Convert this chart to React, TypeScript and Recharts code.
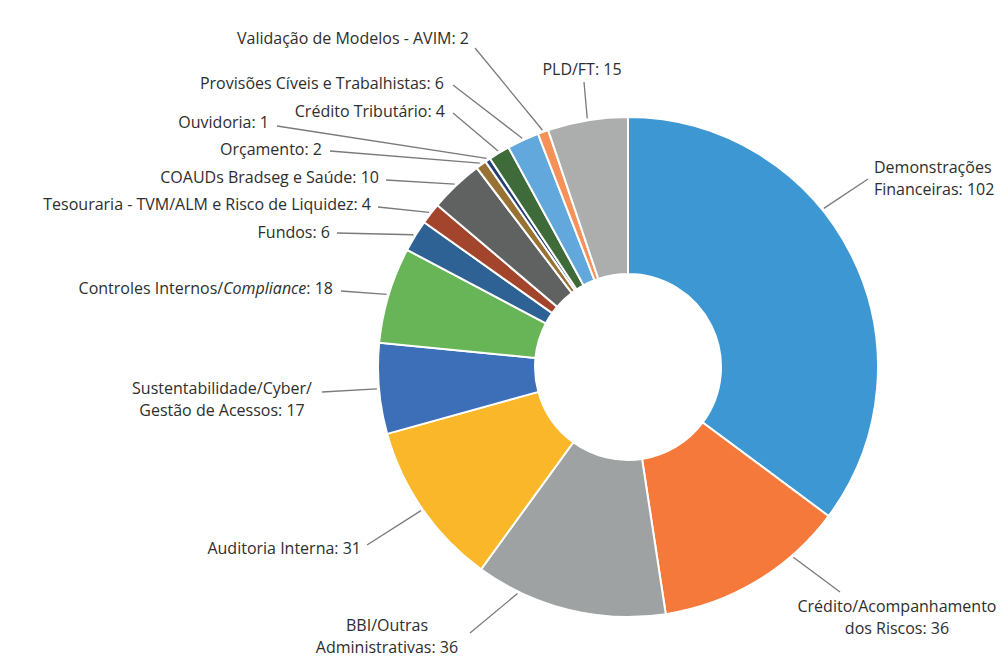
import React from 'react';
import { PieChart, Pie, Cell } from 'recharts';

// ---- data ----
const categories: string[] = [
  'Demonstrações\nFinanceiras',
  'Crédito/Acompanhamento\ndos Riscos',
  'BBI/Outras\nAdministrativas',
  'Auditoria Interna',
  'Sustentabilidade/Cyber/\nGestão de Acessos',
  'Controles Internos/Compliance',
  'Fundos',
  'Tesouraria - TVM/ALM e Risco de Liquidez',
  'COAUDs Bradseg e Saúde',
  'Orçamento',
  'Ouvidoria',
  'Crédito Tributário',
  'Provisões Cíveis e Trabalhistas',
  'Validação de Modelos - AVIM',
  'PLD/FT',
];
const values: number[] = [102, 36, 36, 31, 17, 18, 6, 4, 10, 2, 1, 4, 6, 2, 15];
const colors: string[] = [
  '#3d97d3', '#f4793b', '#9fa2a2', '#fbb72a', '#3d6eb8', '#67b556', '#2e6295',
  '#a2452c', '#606161', '#977234', '#263f77', '#3f6b3b', '#62a8dc', '#f7915a', '#acadad',
];

const data = categories.map((name, i) => ({ name, value: values[i] }));

// ---- label layout (hand placed, like the original) ----
type Layout = { lineAngle?: number; end: [number, number]; text: [number, number]; anchor: 'start' | 'middle' | 'end' };
const LABEL_LAYOUT: Layout[] = [
  { lineAngle: 51, end: [868, 179], text: [874, 166.5], anchor: 'start' },
  { lineAngle: 139, end: [840, 592], text: [897, 605.5], anchor: 'middle' },
  { lineAngle: 206, end: [470, 633], text: [387, 624.5], anchor: 'middle' },
  { end: [367, 545], text: [361, 548], anchor: 'end' },
  { end: [322, 392], text: [222, 388], anchor: 'middle' },
  { end: [341, 291], text: [333, 288], anchor: 'end' },
  { end: [337, 233], text: [330, 232], anchor: 'end' },
  { end: [378, 207], text: [371, 204], anchor: 'end' },
  { end: [386, 180], text: [379, 177], anchor: 'end' },
  { end: [330, 151], text: [322, 149], anchor: 'end' },
  { end: [277, 126], text: [269, 122], anchor: 'end' },
  { end: [453, 113], text: [445, 111], anchor: 'end' },
  { end: [453, 85], text: [444, 83], anchor: 'end' },
  { end: [475, 48], text: [469, 38], anchor: 'end' },
  { end: [584, 82], text: [582, 69], anchor: 'middle' },
];

const RAD = Math.PI / 180;
const FONT = "'Open Sans', 'DejaVu Sans', sans-serif";
const LINE_H = 22;

const renderSegment = (seg: string, key: string) => {
  const idx = seg.indexOf('Compliance');
  if (idx < 0) return seg;
  return [
    seg.slice(0, idx),
    <tspan key={key + 'i'} fontStyle="italic">Compliance</tspan>,
    seg.slice(idx + 'Compliance'.length),
  ];
};

const renderLabel = (props: any) => {
  const { cx, cy, midAngle, outerRadius, index, name, value } = props;
  const lay = LABEL_LAYOUT[index];
  if (!lay) return null;
  const r = outerRadius + 2;
  let sx: number, sy: number;
  if (lay.lineAngle !== undefined) {
    sx = cx + r * Math.sin(lay.lineAngle * RAD);
    sy = cy - r * Math.cos(lay.lineAngle * RAD);
  } else {
    sx = cx + r * Math.cos(midAngle * RAD);
    sy = cy - r * Math.sin(midAngle * RAD);
  }
  const lines = `${name}: ${value}`.split('\n');
  return (
    <g key={`lbl-${index}`}>
      <line x1={sx} y1={sy} x2={lay.end[0]} y2={lay.end[1]} stroke="#7a7a7a" strokeWidth={1.3} />
      {lines.map((ln, i) => (
        <text
          key={i}
          x={lay.text[0]}
          y={lay.text[1] + i * LINE_H}
          textAnchor={lay.anchor}
          dominantBaseline="central"
          fill="#2e2e2e"
          fontSize={16}
          fontFamily={FONT}
        >
          {renderSegment(ln, `s${i}`)}
        </text>
      ))}
    </g>
  );
};

export default function App() {
  return (
    <div style={{ position: 'absolute', left: 0, top: 0, width: 1008, height: 662, background: '#ffffff' }}>
      <PieChart width={1008} height={662} margin={{ top: 0, right: 0, bottom: 0, left: 0 }}>
        <Pie
          data={data}
          dataKey="value"
          nameKey="name"
          cx={628}
          cy={367}
          innerRadius={93}
          outerRadius={250}
          startAngle={90}
          endAngle={-270}
          stroke="#ffffff"
          strokeWidth={2}
          label={renderLabel}
          labelLine={false}
          isAnimationActive={false}
        >
          {data.map((_, i) => (
            <Cell key={i} fill={colors[i]} />
          ))}
        </Pie>
      </PieChart>
    </div>
  );
}
